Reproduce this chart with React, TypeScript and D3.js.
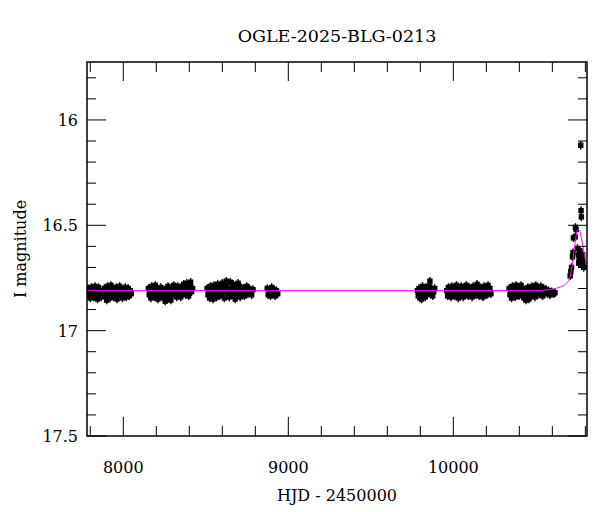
import * as d3 from 'd3';

type Pt = [number, number];

const title = 'OGLE-2025-BLG-0213';
const xLabel = 'HJD - 2450000';
const yLabel = 'I magnitude';

const xDomain: Pt = [7780, 10810];
const yDomain: Pt = [15.725, 17.5];
const xMajor = [8000, 9000, 10000];
const yMajor = [16, 16.5, 17, 17.5];

// photometry, one array per observing season
const season1: Pt[] = [
  [7786,16.80],[7790,16.83],[7795,16.815],[7800,16.845],[7806,16.795],[7811,16.825],[7816,16.81],[7822,16.84],
  [7828,16.79],[7833,16.82],[7839,16.805],[7844,16.85],[7850,16.795],[7856,16.83],[7861,16.81],[7866,16.84],
  [7885,16.80],[7890,16.835],[7894,16.815],[7899,16.855],[7904,16.79],[7909,16.825],[7914,16.805],[7919,16.845],
  [7925,16.785],[7930,16.82],[7936,16.80],[7941,16.84],[7946,16.81],[7952,16.83],[7957,16.795],[7962,16.85],
  [7968,16.815],[7973,16.835],[7978,16.79],[7984,16.82],[7990,16.805],[7995,16.845],[8000,16.81],[8006,16.83],
  [8012,16.795],[8018,16.84],[8024,16.815],[8030,16.80],[8036,16.835],[8042,16.81],[8048,16.825],
];
const season2: Pt[] = [
  [8152,16.80],[8157,16.83],[8162,16.815],[8167,16.845],[8172,16.79],[8178,16.825],[8183,16.805],[8188,16.84],
  [8194,16.785],[8199,16.82],[8205,16.80],[8210,16.85],[8216,16.81],[8221,16.835],[8227,16.795],[8232,16.825],
  [8238,16.805],[8243,16.845],[8249,16.815],[8254,16.86],[8260,16.80],[8265,16.83],[8271,16.79],[8276,16.845],
  [8282,16.81],[8288,16.855],[8294,16.80],[8300,16.83],[8306,16.785],[8312,16.82],[8318,16.80],[8324,16.84],
  [8330,16.79],[8336,16.825],[8342,16.805],[8348,16.84],[8354,16.79],[8360,16.82],[8366,16.78],[8372,16.81],
  [8378,16.83],[8384,16.775],[8390,16.805],[8396,16.835],[8402,16.79],[8408,16.77],[8414,16.815],[8420,16.80],
];
const season3: Pt[] = [
  [8508,16.80],[8513,16.83],[8518,16.815],[8523,16.845],[8528,16.79],[8534,16.825],[8539,16.805],[8544,16.85],
  [8550,16.785],[8555,16.82],[8561,16.80],[8566,16.84],[8572,16.78],[8577,16.815],[8583,16.835],[8588,16.795],
  [8594,16.825],[8600,16.775],[8606,16.81],[8612,16.845],[8618,16.79],[8624,16.765],[8630,16.82],[8636,16.80],
  [8642,16.84],[8648,16.77],[8654,16.805],[8660,16.83],[8666,16.78],[8672,16.815],[8678,16.85],[8684,16.79],
  [8690,16.825],[8696,16.775],[8702,16.805],[8708,16.84],[8714,16.795],[8720,16.82],[8727,16.80],[8734,16.835],
  [8741,16.81],[8748,16.79],[8755,16.825],[8762,16.80],[8770,16.815],[8778,16.83],[8786,16.805],
];
const season4: Pt[] = [
  [8872,16.80],[8878,16.83],[8885,16.81],[8892,16.835],[8899,16.795],[8906,16.82],[8913,16.805],[8920,16.835],
  [8928,16.81],[8936,16.825],
];
const season5: Pt[] = [
  [9782,16.81],[9787,16.835],[9792,16.80],[9797,16.845],[9802,16.815],[9808,16.85],[9813,16.79],[9818,16.825],
  [9824,16.805],[9830,16.84],[9835,16.795],[9841,16.83],[9846,16.81],[9852,16.79],[9858,16.765],[9863,16.825],
  [9869,16.80],[9875,16.835],[9881,16.815],[9887,16.80],
];
const season6: Pt[] = [
  [9960,16.81],[9965,16.835],[9970,16.795],[9975,16.82],[9980,16.805],[9986,16.84],[9991,16.79],[9997,16.825],
  [10002,16.80],[10008,16.835],[10013,16.815],[10019,16.785],[10025,16.82],[10030,16.845],[10036,16.80],[10042,16.83],
  [10048,16.79],[10054,16.815],[10060,16.84],[10066,16.80],[10072,16.825],[10078,16.785],[10084,16.81],[10090,16.835],
  [10096,16.795],[10102,16.82],[10108,16.805],[10114,16.84],[10120,16.79],[10126,16.825],[10132,16.80],[10138,16.83],
  [10144,16.78],[10150,16.815],[10156,16.835],[10162,16.795],[10168,16.82],[10174,16.80],[10180,16.84],[10186,16.79],
  [10192,16.825],[10198,16.805],[10204,16.83],[10210,16.785],[10216,16.815],[10222,16.80],[10228,16.825],
];
const season7: Pt[] = [
  [10338,16.80],[10343,16.83],[10348,16.815],[10353,16.845],[10358,16.79],[10364,16.825],[10369,16.805],[10375,16.84],
  [10380,16.785],[10386,16.82],[10392,16.80],[10398,16.835],[10404,16.81],[10410,16.785],[10416,16.825],[10422,16.80],
  [10428,16.845],[10434,16.81],[10440,16.855],[10446,16.83],[10452,16.795],[10458,16.85],[10464,16.815],[10470,16.835],
  [10476,16.79],[10482,16.82],[10488,16.80],[10494,16.84],[10500,16.785],[10506,16.815],[10512,16.83],[10518,16.80],
  [10524,16.825],[10530,16.79],[10536,16.815],[10542,16.835],[10548,16.80],[10555,16.82],[10562,16.805],[10570,16.825],
  [10578,16.81],[10586,16.83],[10596,16.815],[10608,16.825],[10616,16.82],
];
const season8: Pt[] = [
  [10708,16.74],[10712,16.72],[10716,16.70],[10722,16.65],[10725,16.63],[10728,16.56],[10738,16.555],[10740,16.51],
  [10744,16.52],[10752,16.61],[10758,16.64],[10760,16.68],[10762,16.66],[10766,16.62],[10770,16.65],[10772,16.12],
  [10774,16.43],[10776,16.46],[10778,16.67],[10780,16.69],[10782,16.66],[10784,16.64],[10786,16.68],[10790,16.70],
];

// microlensing model
const model: Pt[] = [
  [7780,16.81],[10500,16.81],[10580,16.805],[10640,16.795],[10680,16.78],[10705,16.75],[10720,16.69],
  [10735,16.60],[10745,16.545],[10755,16.52],[10765,16.525],[10777,16.565],[10790,16.62],[10800,16.66],[10812,16.71],
];

const errBar = 0.02;

const App = () => {
  const width = 600;
  const height = 512;
  const left = 87, right = 587, top = 62, bottom = 436;

  const x = d3.scaleLinear().domain(xDomain).range([left, right]);
  const y = d3.scaleLinear().domain(yDomain).range([top, bottom]);

  const xMinor = d3.range(7800, 10810, 200).filter(v => !xMajor.includes(v));
  const yMinor = d3.range(15.8, 17.5, 0.1).map(v => +v.toFixed(1)).filter(v => !yMajor.includes(v));

  const pts = [season1, season2, season3, season4, season5, season6, season7, season8].flat();
  const line = d3.line<Pt>().x(d => x(d[0])).y(d => y(d[1])).curve(d3.curveMonotoneX);

  const font = '"DejaVu Serif", serif';
  const majLen = 19, minLen = 9;
  const sq = 5.4;

  return (
    <svg width={width} height={height} style={{ position: 'absolute', left: 0, top: 0 }} fontFamily={font}>
      <rect width={width} height={height} fill="white" />
      <defs>
        <clipPath id="plot">
          <rect x={left} y={top} width={right - left} height={bottom - top} />
        </clipPath>
      </defs>

      <text x={(left + right) / 2} y={42} textAnchor="middle" fontSize={17.5}>{title}</text>

      <g clipPath="url(#plot)">
        {pts.map((d, i) => (
          <g key={i}>
            <line x1={x(d[0])} x2={x(d[0])} y1={y(d[1] - errBar)} y2={y(d[1] + errBar)} stroke="black" strokeWidth={1.4} />
            <rect x={x(d[0]) - sq / 2} y={y(d[1]) - sq / 2} width={sq} height={sq} fill="black" />
          </g>
        ))}
        <path d={line(model) ?? ''} fill="none" stroke="#ff00ff" strokeWidth={1} />
      </g>

      <g stroke="black" strokeWidth={1}>
        {xMajor.map(v => (
          <g key={'xM' + v}>
            <line x1={x(v)} x2={x(v)} y1={bottom} y2={bottom - majLen} />
            <line x1={x(v)} x2={x(v)} y1={top} y2={top + majLen} />
          </g>
        ))}
        {xMinor.map(v => (
          <g key={'xm' + v}>
            <line x1={x(v)} x2={x(v)} y1={bottom} y2={bottom - minLen - 1} />
            <line x1={x(v)} x2={x(v)} y1={top} y2={top + minLen + 1} />
          </g>
        ))}
        {yMajor.map(v => (
          <g key={'yM' + v}>
            <line x1={left} x2={left + majLen} y1={y(v)} y2={y(v)} />
            <line x1={right} x2={right - majLen} y1={y(v)} y2={y(v)} />
          </g>
        ))}
        {yMinor.map(v => (
          <g key={'ym' + v}>
            <line x1={left} x2={left + minLen} y1={y(v)} y2={y(v)} />
            <line x1={right} x2={right - minLen} y1={y(v)} y2={y(v)} />
          </g>
        ))}
      </g>
      <rect x={left} y={top} width={right - left} height={bottom - top} fill="none" stroke="black" strokeWidth={1.5} />

      {xMajor.map(v => (
        <text key={'xl' + v} x={x(v)} y={473} textAnchor="middle" fontSize={16}>{v}</text>
      ))}
      {yMajor.map(v => (
        <text key={'yl' + v} x={78} y={y(v) + 6} textAnchor="end" fontSize={16}>{v}</text>
      ))}
      <text x={(left + right) / 2} y={501} textAnchor="middle" fontSize={16}>{xLabel}</text>
      <text transform={`translate(26,${(top + bottom) / 2}) rotate(-90)`} textAnchor="middle" fontSize={16}>{yLabel}</text>
    </svg>
  );
};

export default App;
